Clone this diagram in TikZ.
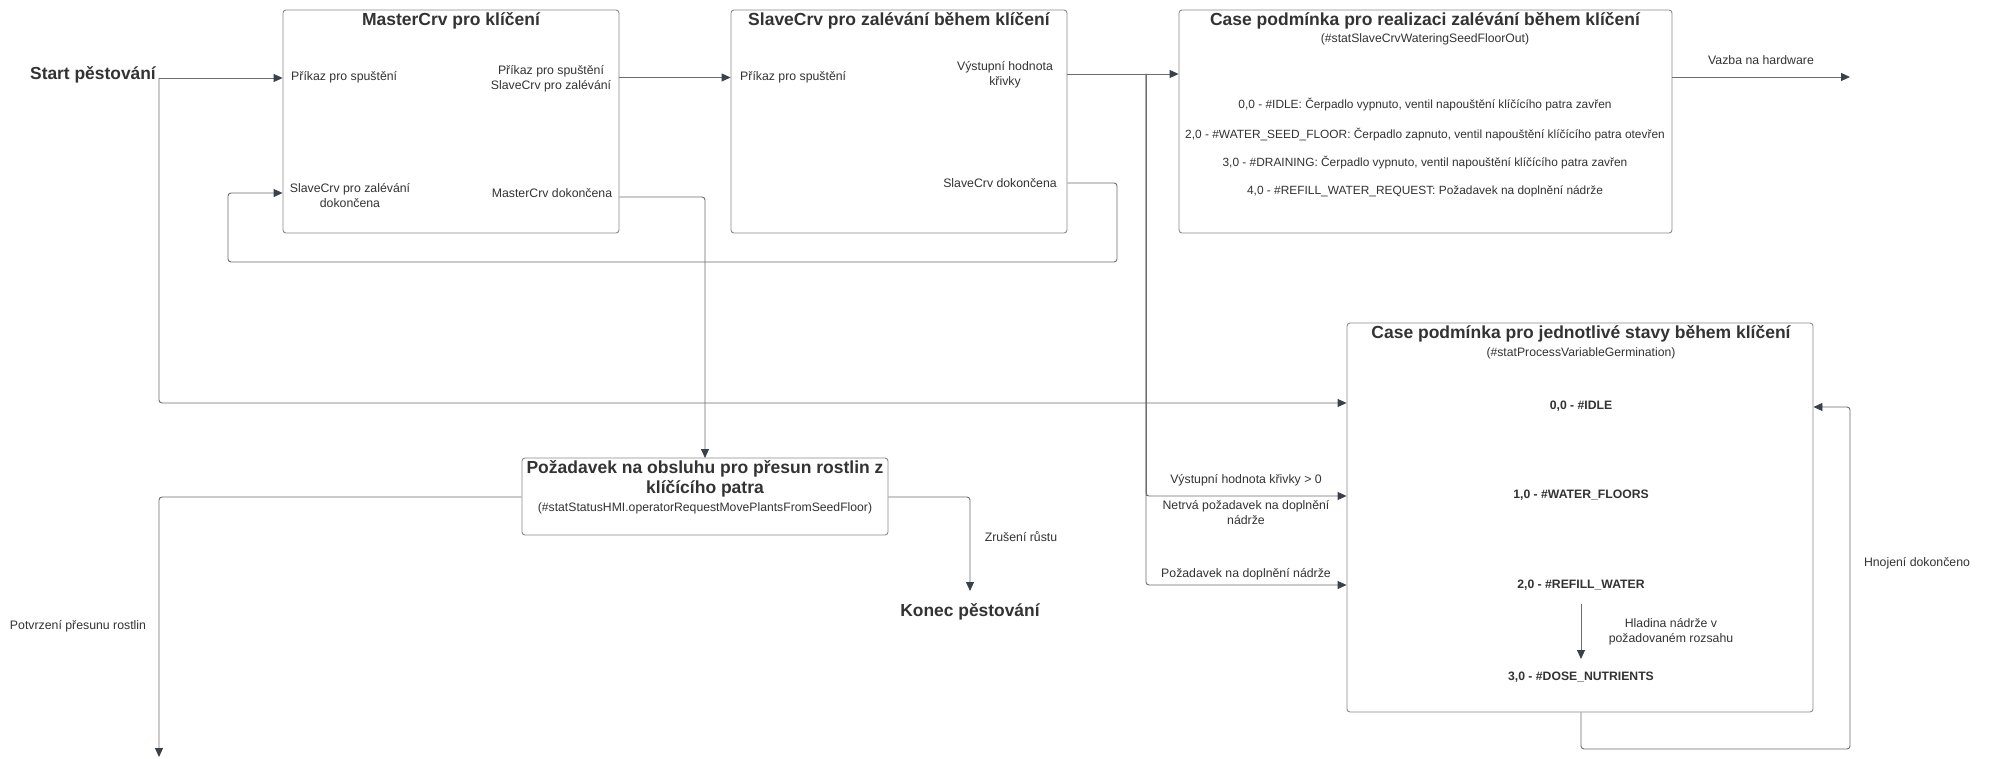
\documentclass[tikz,border=0pt]{standalone}
\usepackage{fontspec}
\setmainfont{Liberation Sans}
\usetikzlibrary{arrows.meta}
\definecolor{txt}{HTML}{333333}
\definecolor{boxc}{HTML}{8A8A8A}
\definecolor{linec}{HTML}{6E6E6E}
\definecolor{tipc}{HTML}{3A414A}
\tikzset{
  box/.style={draw=boxc, line width=0.9pt, rounded corners=3pt, inner sep=0pt},
  lbl/.style={inner sep=0pt, text=txt, align=center, font=\fontsize{12.3}{15}\selectfont},
  cl/.style={inner sep=0pt, text=txt, align=center, font=\fontsize{11.9}{15}\selectfont},
  ttl/.style={inner sep=0pt, text=txt, align=center, font=\bfseries\fontsize{17.5}{24}\selectfont},
  sub/.style={inner sep=0pt, text=txt, align=center, font=\fontsize{12.2}{14}\selectfont},
  st/.style={inner sep=0pt, text=txt, align=center, font=\bfseries\fontsize{12.2}{14}\selectfont},
  big/.style={inner sep=0pt, text=txt, font=\bfseries\fontsize{17.4}{20}\selectfont},
  ln/.style={draw=linec, line width=0.9pt, rounded corners=3pt},
  arr/.style={ln, -{Triangle[length=9pt,width=8pt,color=tipc]}},
}
\begin{document}
\begin{tikzpicture}[x=1pt,y=-1pt]
\useasboundingbox (0,0) rectangle (1992,759);
\fill[white] (0,0) rectangle (1992,759);

% boxes
\node[box, minimum width=336pt, minimum height=223pt] (master) at (451,121.5) {};
\node[box, minimum width=336pt, minimum height=223pt] (slave) at (899,121.5) {};
\node[box, minimum width=493pt, minimum height=223pt] (case1) at (1425.5,121.5) {};
\node[box, minimum width=466pt, minimum height=389pt] (case2) at (1580,517.5) {};
\node[box, minimum width=366pt, minimum height=77pt] (req) at (705,496.5) {};

% free texts
\node[big] (start) at (93,75) {Start pěstování};
\node[big] (konec) at (970,612) {Konec pěstování};

% master contents
\node[ttl] (mt) at (451,21) {MasterCrv pro klíčení};
\node[lbl, anchor=west] (m1) at (291,77) {Příkaz pro spuštění};
\node[lbl] (m2) at (551,78.5) {Příkaz pro spuštění\\SlaveCrv pro zalévání};
\node[lbl] (m3) at (350,195.5) {SlaveCrv pro zalévání\\dokončena};
\node[lbl] (m4) at (552,193) {MasterCrv dokončena};

% slave contents
\node[ttl] (stt) at (899,21) {SlaveCrv pro zalévání během klíčení};
\node[lbl, anchor=west] (s1) at (740,77) {Příkaz pro spuštění};
\node[lbl] (s2) at (1005,74.5) {Výstupní hodnota\\křivky};
\node[lbl] (s3) at (1000,183) {SlaveCrv dokončena};

% case1 contents
\node[ttl] (c1t) at (1425,21) {Case podmínka pro realizaci zalévání během klíčení};
\node[sub] (c1s) at (1425,39) {(\#statSlaveCrvWateringSeedFloorOut)};
\node[cl] (c1a) at (1425,105) {0,0 - \#IDLE: Čerpadlo vypnuto, ventil napouštění klíčícího patra zavřen};
\node[cl] (c1b) at (1425,135) {2,0 - \#WATER\_SEED\_FLOOR: Čerpadlo zapnuto, ventil napouštění klíčícího patra otevřen};
\node[cl] (c1c) at (1425,163) {3,0 - \#DRAINING: Čerpadlo vypnuto, ventil napouštění klíčícího patra zavřen};
\node[cl] (c1d) at (1425,191) {4,0 - \#REFILL\_WATER\_REQUEST: Požadavek na doplnění nádrže};

% case2 contents
\node[ttl] (c2t) at (1581,334) {Case podmínka pro jednotlivé stavy během klíčení};
\node[sub] (c2s) at (1581,353) {(\#statProcessVariableGermination)};
\node[st] (idle) at (1581,406) {0,0 - \#IDLE};
\node[st] (wf) at (1581,495) {1,0 - \#WATER\_FLOORS};
\node[st] (rw) at (1581,585) {2,0 - \#REFILL\_WATER};
\node[st] (dn) at (1581,677) {3,0 - \#DOSE\_NUTRIENTS};

% request contents
\node[ttl, font=\bfseries\fontsize{17.5}{20}\selectfont] (rt) at (705,479) {Požadavek na obsluhu pro přesun rostlin z\\klíčícího patra};
\node[sub] (rs) at (705,508) {(\#statStatusHMI.operatorRequestMovePlantsFromSeedFloor)};

% connector labels
\node[lbl] (lhw) at (1761,60) {Vazba na hardware};
\node[lbl] (lzr) at (1021,537) {Zrušení růstu};
\node[lbl] (lpo) at (78,626) {Potvrzení přesunu rostlin};
\node[lbl] (lv0) at (1246,480) {Výstupní hodnota křivky > 0};
\node[lbl] (lnt) at (1246,512.5) {Netrvá požadavek na doplnění\\nádrže};
\node[lbl] (lpd) at (1246,574) {Požadavek na doplnění nádrže};
\node[lbl] (lhn) at (1917,563) {Hnojení dokončeno};
\node[lbl] (lhl) at (1671,631.5) {Hladina nádrže v\\požadovaném rozsahu};

% coordinates
\coordinate (sj) at (159,78);
\coordinate (br) at (1146,74);
\coordinate (hw) at (1850,77);
\coordinate (rq) at (705,458);
\coordinate (pend) at (159,757);
\coordinate (kend) at (970,591);
\coordinate (rwb) at (1581,604);
\coordinate (dnt) at (1581,659);

% connectors
\draw[arr] (sj) -- (sj -| master.west);
\draw[arr] (sj) |- (case2.west |- 0,403);
\draw[arr] (master.east |- 0,77.5) -- (slave.west |- 0,77.5);
\draw[arr] (slave.east |- 0,74) -- (case1.west |- 0,74);
\draw[ln] (br) -- (1146,496);
\draw[arr] (br) |- (case2.west |- 0,496);
\draw[arr] (br) |- (case2.west |- 0,585);
\draw[arr] (slave.east |- 0,183) -| (1117,262) -| (228,193) -- (master.west |- 0,193);
\draw[arr] (master.east |- 0,197) -| (rq);
\draw[arr] (case1.east |- hw) -- (hw);
\draw[arr] (req.west |- 0,497) -| (pend);
\draw[arr] (req.east |- 0,497) -| (kend);
\draw[arr] (rwb) -- (dnt);
\draw[arr] (case2.south -| 1581,0) -- (1581,749) -- (1850,749) -- (1850,407) -- (case2.east |- 0,407);
\end{tikzpicture}
\end{document}
